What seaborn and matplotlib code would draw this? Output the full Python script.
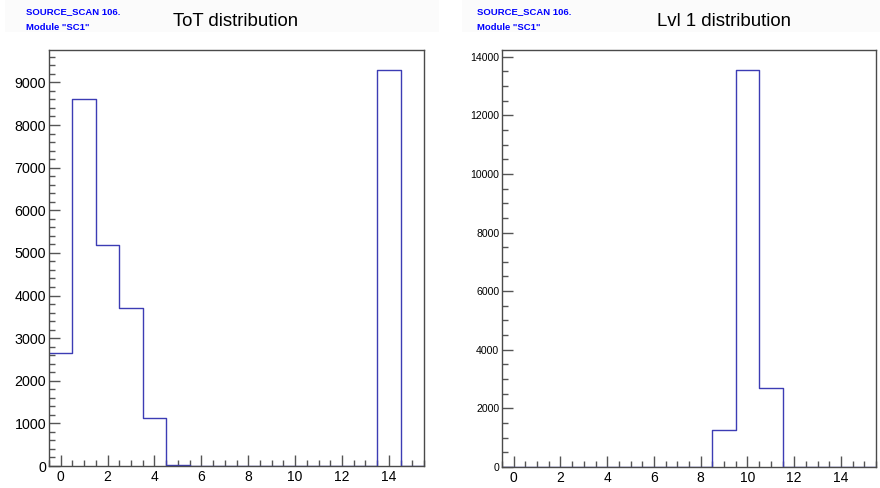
import numpy as np
import pandas as pd
import matplotlib
matplotlib.use("Agg")
import matplotlib.pyplot as plt
import seaborn as sns
from matplotlib.ticker import MultipleLocator
from matplotlib.patches import Rectangle

# ---- data ----
bins_x = list(range(16))
tot_counts = [2655, 8600, 5180, 3717, 1117, 15, 0, 0, 0, 0, 0, 0, 0, 0, 9295, 0]
lvl1_counts = [0, 0, 0, 0, 0, 0, 0, 0, 0, 1258, 13550, 2693, 0, 0, 0, 0]
titles = ["ToT distribution", "Lvl 1 distribution"]
scan_label = "SOURCE_SCAN 106."
module_label = 'Module "SC1"'

sns.set_style("white")
plt.rcParams["font.family"] = ["Liberation Sans", "DejaVu Sans"]

W, H = 880, 488
fig = plt.figure(figsize=(W / 100, H / 100), dpi=100)

line_col = "#3c3cb4"
frame_col = "#4a4a4a"
tick_col = "#555555"

def fx(px):
    return px / W

def fy(py):
    return 1 - py / H

panels = [
    dict(rect=[fx(49), fy(466), fx(424 - 49), (466 - 50) / H], counts=tot_counts,
         ymaj=1000, ymin=200, ylab=10, title_x=236, text_x=26, box=(5, 439)),
    dict(rect=[fx(502), fy(467), fx(876 - 502), (467 - 50) / H], counts=lvl1_counts,
         ymaj=2000, ymin=500, ylab=7.3, title_x=724, text_x=477, box=(462, 880)),
]

for i, p in enumerate(panels):
    # faint title box
    x0, x1 = p["box"]
    fig.patches.append(Rectangle((fx(x0), fy(32)), fx(x1 - x0), 32 / H,
                                 transform=fig.transFigure, facecolor="#fbfbfb",
                                 edgecolor="none", zorder=0))
    ax = fig.add_axes(p["rect"])
    df = pd.DataFrame({"x": bins_x, "w": p["counts"]})
    sns.histplot(data=df, x="x", weights="w", binwidth=1, binrange=(-0.5, 15.5),
                 element="step", fill=False, color=line_col, linewidth=1.0, ax=ax)
    ax.set_xlim(-0.5, 15.5)
    ax.set_ylim(0, max(p["counts"]) * 1.05)
    ax.set_xlabel("")
    ax.set_ylabel("")
    ax.xaxis.set_major_locator(MultipleLocator(2))
    ax.xaxis.set_minor_locator(MultipleLocator(0.5))
    ax.yaxis.set_major_locator(MultipleLocator(p["ymaj"]))
    ax.yaxis.set_minor_locator(MultipleLocator(p["ymin"]))
    ax.tick_params(which="both", direction="in", color=tick_col, top=False, right=False,
                   bottom=True, left=True, width=1.0)
    ax.tick_params(which="major", length=8)
    ax.tick_params(which="minor", length=4.3)
    ax.tick_params(axis="x", which="major", labelsize=10, pad=3, labelcolor="black")
    ax.tick_params(axis="y", which="major", labelsize=p["ylab"] + 0.3, pad=2, labelcolor="black")
    for s in ax.spines.values():
        s.set_color(frame_col)
        s.set_linewidth(1.0)
        s.set_visible(True)
    # titles and labels
    fig.text(fx(p["title_x"]), fy(26), titles[i], ha="center", va="baseline",
             fontsize=13.4, color="black")
    fig.text(fx(p["text_x"]), fy(14), scan_label, ha="left", va="baseline",
             fontsize=6.8, fontweight="bold", color="#0000ff")
    fig.text(fx(p["text_x"]), fy(29.5), module_label, ha="left", va="baseline",
             fontsize=6.8, fontweight="bold", color="#0000ff")

fig.savefig("out.png", dpi=100, facecolor="white")
